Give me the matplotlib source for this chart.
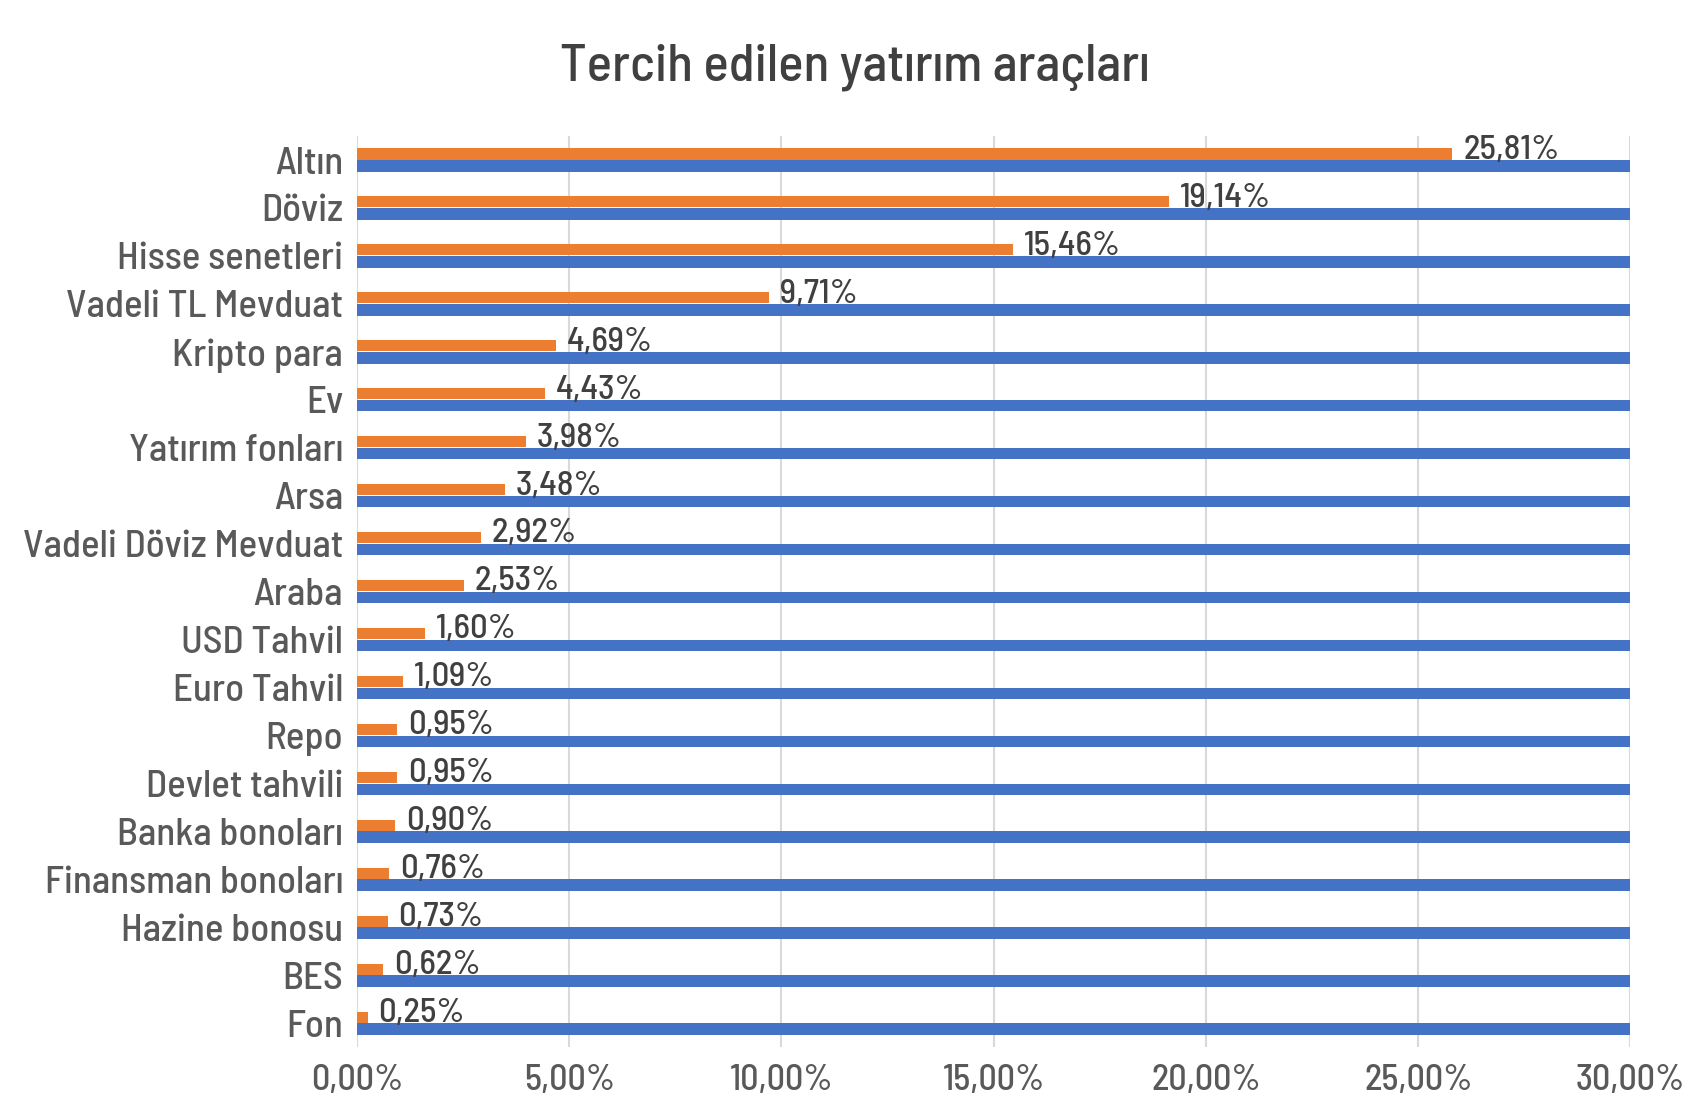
import matplotlib.pyplot as plt
from matplotlib.ticker import FuncFormatter

plt.rcParams['font.family'] = ['Barlow Semi Condensed', 'DejaVu Sans']
plt.rcParams['font.weight'] = 'medium'

categories = ['Altın', 'Döviz', 'Hisse senetleri', 'Vadeli TL Mevduat', 'Kripto para', 'Ev',
              'Yatırım fonları', 'Arsa', 'Vadeli Döviz Mevduat', 'Araba', 'USD Tahvil',
              'Euro Tahvil', 'Repo', 'Devlet tahvili', 'Banka bonoları', 'Finansman bonoları',
              'Hazine bonosu', 'BES', 'Fon']
orange_vals = [25.81, 19.14, 15.46, 9.71, 4.69, 4.43, 3.98, 3.48, 2.92, 2.53, 1.60,
               1.09, 0.95, 0.95, 0.90, 0.76, 0.73, 0.62, 0.25]
blue_vals = [30.0] * len(categories)
xticks = [0, 5, 10, 15, 20, 25, 30]

fig = plt.figure(figsize=(17, 11.15), dpi=100)
ax = fig.add_axes([0.21, 0.061, 0.749, 0.817])

y = list(range(len(categories)))
ax.barh([i - 0.125 for i in y], orange_vals, height=0.23, color='#ED7D31', zorder=3)
ax.barh([i + 0.125 for i in y], blue_vals, height=0.24, color='#4472C4', zorder=3)

for i, v in enumerate(orange_vals):
    ax.text(v + 0.25, i - 0.2, ('%.2f' % v).replace('.', ',') + '%', va='center', ha='left',
            fontsize=25, color='#404040', zorder=4)

ax.set_xlim(0, 30)
ax.set_ylim(len(categories) - 0.5, -0.5)
ax.set_xticks(xticks)
ax.xaxis.set_major_formatter(FuncFormatter(lambda x, p: ('%.2f' % x).replace('.', ',') + '%'))
ax.set_yticks(y)
ax.set_yticklabels(categories, fontsize=28)
ax.tick_params(axis='both', length=0, colors='#595959')
ax.tick_params(axis='x', labelsize=26, pad=12)
ax.tick_params(axis='y', pad=10)
ax.grid(axis='x', color='#D9D9D9', linewidth=1.5, zorder=0)
for s in ax.spines.values():
    s.set_visible(False)

fig.text(0.503, 0.94, 'Tercih edilen yatırım araçları', ha='center', va='center',
         fontsize=38, color='#404040')

fig.savefig('out.png')
